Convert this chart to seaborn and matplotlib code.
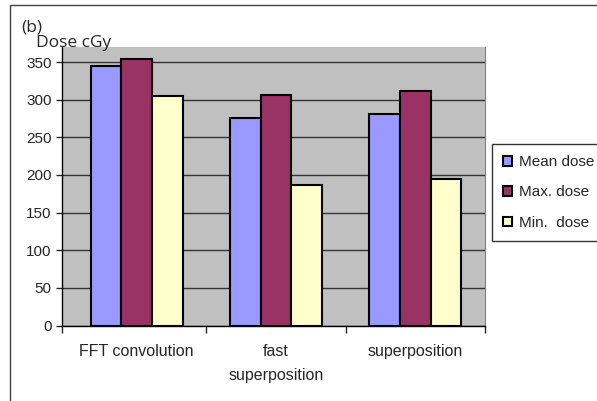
import pandas as pd
import seaborn as sns
import matplotlib.pyplot as plt
from matplotlib.patches import Rectangle

# values (cGy)
methods = ['FFT convolution', 'fast\nsuperposition', 'superposition']
series = ['Mean dose', 'Max. dose', 'Min.  dose']
mean_dose = [345, 276, 281]
max_dose = [354, 306, 311]
min_dose = [305, 186, 195]
colors = ['#9999FF', '#993366', '#FFFFCC']

rows = []
for i, m in enumerate(methods):
    rows.append({'method': m, 'series': series[0], 'dose': mean_dose[i]})
    rows.append({'method': m, 'series': series[1], 'dose': max_dose[i]})
    rows.append({'method': m, 'series': series[2], 'dose': min_dose[i]})
df = pd.DataFrame(rows)

sns.set_style('white')
plt.rcParams['font.family'] = ['Liberation Sans', 'DejaVu Sans']

fig = plt.figure(figsize=(5.97, 4.01), dpi=100)
ax = fig.add_axes([61.5/597, 1-325.5/401, (485-61.5)/597, (325.5-47)/401])
ax.set_facecolor('#C0C0C0')

sns.barplot(data=df, x='method', y='dose', hue='series', palette=colors,
            width=0.66, edgecolor='black', linewidth=1.5, saturation=1,
            ax=ax, zorder=3)

ax.set_ylim(0, 370)
ax.set_xlim(-0.54, 2.5)
ax.set_yticks(range(0, 351, 50))
ax.tick_params(axis='y', labelsize=11, length=4, width=1, direction='out', pad=3, left=True)
ax.tick_params(axis='x', which='major', length=0, labelsize=11.5, pad=13)
for t in ax.get_xticklabels():
    t.set_linespacing(1.75)
ax.set_xticks([-0.54, 0.5, 1.5, 2.5], minor=True)
ax.tick_params(axis='x', which='minor', length=5, width=1, bottom=True)
ax.yaxis.grid(True, color='#333333', linewidth=1, zorder=0)
ax.set_axisbelow(True)
ax.set_xlabel('')
ax.set_ylabel('')
for s in ['left', 'bottom']:
    ax.spines[s].set_color('black')
    ax.spines[s].set_linewidth(1)
ax.spines['top'].set_visible(False)
ax.spines['right'].set_color('#808080')

ax.legend_.remove()
handles, labels = ax.get_legend_handles_labels()
leg = fig.legend(handles, labels, loc='upper left',
                 bbox_to_anchor=(492/597, 1-144/401), frameon=True,
                 fancybox=False, edgecolor='black', fontsize=11,
                 handlelength=0.55, handleheight=0.55, labelspacing=1.05,
                 borderpad=0.75, handletextpad=0.45, borderaxespad=0)
leg.get_frame().set_linewidth(1)

fig.text(36/597, 1-43/401, 'Dose cGy', fontsize=12.5, family=['Open Sans', 'DejaVu Sans'], va='center')
fig.text(21/597, 1-27/401, '(b)', fontsize=12.5, family=['Open Sans', 'DejaVu Sans'], va='center')

fig.add_artist(Rectangle((10/597, -0.1), 1.2, 1.1 - 5/401, transform=fig.transFigure,
                         fill=False, edgecolor='#404040', linewidth=1))

fig.savefig('out.png', dpi=100)
